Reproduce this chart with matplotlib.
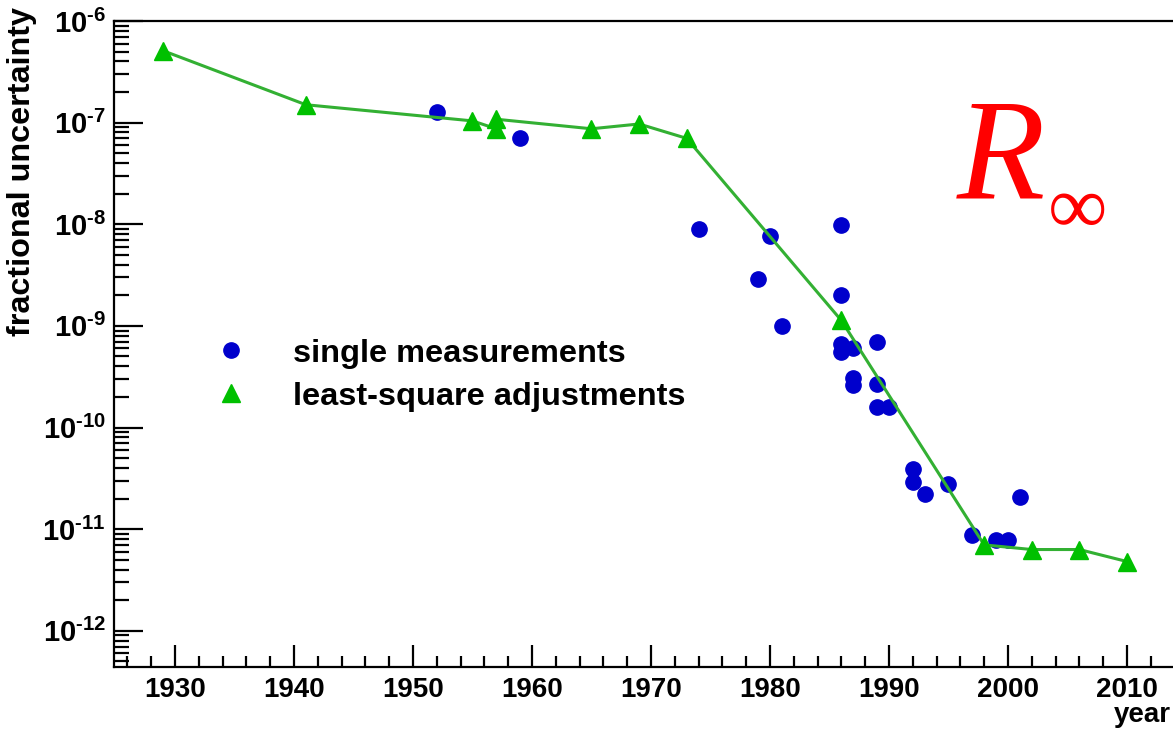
import math
import matplotlib
matplotlib.use("Agg")
import matplotlib.pyplot as plt
from matplotlib.lines import Line2D
from matplotlib.ticker import MultipleLocator, FixedLocator, FuncFormatter, NullFormatter

# ---- data ----
single_years = [1952, 1959, 1974, 1979, 1980, 1981, 1986, 1986, 1986, 1986,
                1987, 1987, 1987, 1989, 1989, 1989, 1990, 1992, 1992, 1993,
                1995, 1997, 1999, 2000, 2001]
single_vals = [1.27e-7, 7.0e-8, 8.9e-9, 2.9e-9, 7.6e-9, 1.0e-9, 9.8e-9, 2.0e-9,
               6.6e-10, 5.5e-10, 6.1e-10, 3.1e-10, 2.6e-10, 7.0e-10, 2.7e-10,
               1.6e-10, 1.6e-10, 3.9e-11, 2.9e-11, 2.2e-11, 2.75e-11, 8.7e-12,
               7.9e-12, 7.9e-12, 2.05e-11]

adj_years = [1929, 1941, 1955, 1957, 1957, 1965, 1969, 1973, 1986, 1998,
             2002, 2006, 2010]
adj_vals = [5.1e-7, 1.5e-7, 1.04e-7, 8.7e-8, 1.08e-7, 8.7e-8, 9.7e-8, 7.0e-8,
            1.13e-9, 7.0e-12, 6.3e-12, 6.3e-12, 4.8e-12]

x_ticks = [1930, 1940, 1950, 1960, 1970, 1980, 1990, 2000, 2010]
y_exponents = [-12, -11, -10, -9, -8, -7, -6]
legend_labels = ["single measurements", "least-square adjustments"]
y_label = "fractional uncertainty"
x_label = "year"

plt.rcParams['font.family'] = ['Liberation Sans', 'DejaVu Sans']
plt.rcParams['mathtext.fontset'] = 'custom'
plt.rcParams['mathtext.rm'] = 'Liberation Sans:bold'
plt.rcParams['mathtext.it'] = 'Liberation Sans:bold'
plt.rcParams['mathtext.bf'] = 'Liberation Sans:bold'
plt.rcParams['axes.unicode_minus'] = False

W, H = 1173, 733
fig = plt.figure(figsize=(W / 100, H / 100), dpi=100)
left, right, top, bottom = 114.3, 1173, 21, 667
ax = fig.add_axes([left / W, 1 - bottom / H, (right - left) / W, (bottom - top) / H])

blue = '#0000cc'
green = '#00c000'
line_green = '#33b033'

ax.plot(single_years, single_vals, linestyle='none', marker='o', ms=11,
        color=blue, mec=blue, zorder=2)
ax.plot(adj_years, adj_vals, linestyle='-', lw=2.2, color=line_green, zorder=3)
ax.plot(adj_years, adj_vals, linestyle='none', marker='^', ms=13,
        color=green, mec=green, zorder=4)

ax.set_yscale('log')
ax.set_xlim(1924.9, 2013.87)
ax.set_ylim(4.4e-13, 1e-6)

ax.set_xticks(x_ticks)
ax.xaxis.set_minor_locator(MultipleLocator(2))
major_y = [10.0 ** e for e in y_exponents]
minor_y = [m * 10.0 ** e for e in range(-13, -6) for m in range(2, 10)
           if 4.4e-13 < m * 10.0 ** e < 1e-6]
ax.yaxis.set_major_locator(FixedLocator(major_y))
ax.yaxis.set_minor_locator(FixedLocator(minor_y))
ax.yaxis.set_minor_formatter(NullFormatter())

def yfmt(v, pos):
    e = int(round(math.log10(v)))
    return r'$10^{\mathrm{' + '\u2010' + str(abs(e)) + '}}$'
ax.yaxis.set_major_formatter(FuncFormatter(yfmt))

ax.tick_params(axis='both', which='both', direction='in', width=1.6, color='black')
ax.tick_params(axis='y', which='major', length=21, pad=6, labelsize=21)
ax.tick_params(axis='y', which='minor', length=11)
ax.tick_params(axis='x', which='major', length=16, pad=7, labelsize=20)
ax.tick_params(axis='x', which='minor', length=8)
for lbl in ax.get_xticklabels():
    lbl.set_fontweight('bold')

for s in ['left', 'bottom', 'top']:
    ax.spines[s].set_linewidth(1.6)
ax.spines['right'].set_visible(False)

handles = [Line2D([], [], linestyle='none', marker='o', ms=11, color=blue),
           Line2D([], [], linestyle='none', marker='^', ms=13, color=green)]
ax.legend(handles, legend_labels, loc='center left', bbox_to_anchor=(0.0797, 0.452),
          frameon=False, borderpad=0, handlelength=1.0, handletextpad=1.4,
          labelspacing=0.4, prop={'size': 23.4, 'weight': 'bold'})

fig.text(22 / W, 1 - 7 / H, y_label, rotation=90, ha='center', va='top',
         fontsize=23.3, fontweight='bold')
fig.text(1171 / W, 5 / H, x_label, ha='right', va='bottom', fontsize=20,
         fontweight='bold')

fig.text(957 / W, 1 - 197 / H, 'R', ha='left', va='baseline', fontsize=104,
         family='Liberation Serif', style='italic', color='#ff0000')
fig.text(1048 / W, 1 - 213.5 / H, '\u221e', ha='left', va='center', fontsize=60,
         family='Liberation Serif', color='#ff0000')

fig.savefig('out.png', dpi=100)
